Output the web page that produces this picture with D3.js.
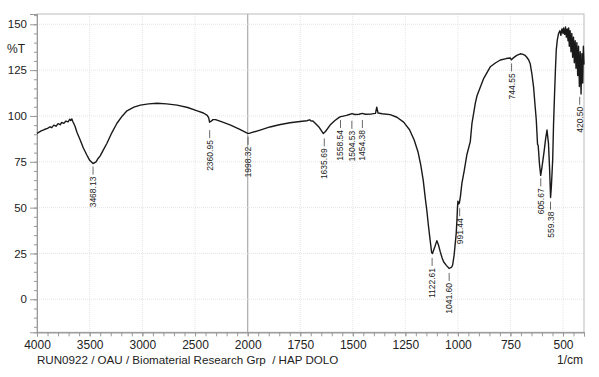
<!DOCTYPE html>
<html lang="en">
<head>
<meta charset="UTF-8">
<title>FTIR HAP DOLO</title>
<script src="https://cdn.jsdelivr.net/npm/d3@7"></script>
<style>
body { margin: 0; background: #fff; }
svg { display: block; font-family: "Liberation Sans", Arial, sans-serif; }
.tick text { fill: #222; }
</style>
</head>
<body>
<svg id="chart" width="599" height="377"></svg>
<script>
// spectrum (wavenumber 1/cm, %T)
var specWn = [4000, 3960, 3930, 3900, 3876, 3860, 3840, 3820, 3800, 3780, 3765, 3745, 3725, 3705, 3690, 3680, 3670, 3660, 3640, 3620, 3590, 3560, 3527, 3500, 3468, 3440, 3420, 3400, 3370, 3336, 3290, 3241, 3190, 3146, 3080, 3019, 2940, 2860, 2770, 2670, 2570, 2479, 2420, 2384, 2370, 2362, 2350, 2330, 2305, 2250, 2162, 2080, 2000, 1990, 1941, 1894, 1850, 1799, 1750, 1719, 1705, 1698, 1690, 1680, 1660, 1640, 1630, 1608, 1585, 1565, 1558, 1550, 1530, 1513, 1504, 1490, 1470, 1455, 1440, 1410, 1392, 1386, 1380, 1360, 1322, 1290, 1258, 1230, 1208, 1190, 1177, 1165, 1155, 1148, 1140, 1132, 1125, 1121, 1110, 1100, 1092, 1084, 1075, 1068, 1055, 1041, 1030, 1025, 1018, 1014, 1008, 1004, 1002, 1000, 996, 993, 988, 981, 970, 957, 941, 933, 917, 909, 877, 846, 820, 798, 770, 751, 745, 738, 720, 703, 690, 680, 672, 663, 656, 648, 640, 633, 627, 621, 618, 612, 606, 600, 589, 582, 576, 572, 569, 564, 559, 555, 549, 545, 540, 536, 532, 527, 521, 515, 510, 505, 500, 497, 492, 488, 484, 480, 476, 473, 470, 466, 462, 458, 454, 450, 446, 442, 438, 434, 430, 426, 422, 418, 414, 410, 406, 403, 400];
var specT = [90.5, 91.8, 92.6, 93.2, 94.1, 93.6, 95.0, 94.4, 95.8, 95.2, 96.5, 96.0, 97.2, 96.8, 98.2, 97.5, 98.4, 97.0, 94.5, 91.0, 86.9, 82.5, 78.7, 75.8, 74.0, 75.0, 76.8, 78.2, 81.5, 85.1, 90.8, 96.0, 100.0, 102.8, 104.8, 105.9, 106.6, 106.9, 106.6, 105.9, 104.6, 102.8, 101.6, 100.3, 99.0, 96.6, 97.0, 98.0, 98.0, 96.9, 95.0, 92.8, 90.5, 90.6, 92.3, 94.0, 95.2, 96.3, 97.0, 97.4, 97.9, 97.2, 97.3, 96.2, 93.8, 90.4, 91.5, 95.0, 97.5, 99.2, 99.6, 99.8, 100.3, 100.9, 101.3, 100.8, 100.9, 101.4, 100.9, 101.1, 101.4, 104.8, 101.6, 101.2, 100.7, 99.3, 96.6, 92.5, 86.9, 80.5, 73.5, 65.0, 55.0, 48.7, 40.0, 32.3, 25.5, 25.0, 28.5, 32.0, 29.5, 26.0, 22.5, 20.5, 18.5, 16.8, 17.5, 18.7, 24.0, 28.7, 36.0, 44.2, 50.0, 53.5, 52.0, 52.5, 56.0, 63.2, 70.0, 79.0, 86.0, 96.0, 107.0, 111.0, 120.5, 126.8, 129.0, 130.5, 131.3, 131.6, 130.6, 131.5, 133.0, 133.9, 133.6, 133.0, 132.0, 130.5, 128.5, 123.0, 115.9, 106.0, 97.8, 84.5, 84.0, 74.0, 67.6, 72.0, 81.4, 88.0, 92.3, 88.0, 85.0, 72.0, 55.5, 62.0, 76.0, 95.0, 112.3, 125.0, 135.9, 141.5, 145.0, 146.5, 144.0, 147.5, 145.0, 148.0, 144.5, 148.5, 143.0, 147.5, 141.0, 148.0, 138.0, 146.5, 135.0, 145.0, 132.0, 143.0, 129.0, 141.0, 126.0, 140.0, 122.0, 138.0, 116.0, 135.0, 112.0, 134.0, 118.0, 138.0, 128.0];

// labelled peaks
var peakWn = [3468.13, 2360.95, 1998.32, 1635.69, 1558.54, 1504.53, 1454.38, 1122.61, 1041.60, 991.44, 744.55, 605.67, 559.38, 420.50];
var peakT = [74.0, 93.9, 90.3, 89.4, 99.4, 99.0, 99.4, 24.2, 16.0, 51.3, 130.3, 67.6, 54.9, 112.1];

var xMajor = [4000, 3500, 3000, 2500, 2000, 1750, 1500, 1250, 1000, 750, 500];
var yMajor = [0, 25, 50, 75, 100, 125, 150];

var svg = d3.select('#chart');
var padL = 37, padR = 584, padT = 14, padB = 332.3;

// split scale: 4000-2000 compressed, 2000-400 expanded
var x = d3.scaleLinear().domain([4000, 2000, 400]).range([padL, 247.7, padR]);
var y = d3.scaleLinear().domain([-18, 155.6]).range([padB, padT]);

var xMinor = d3.range(4000, 2000, -100).concat(d3.range(2000, 399, -50));
var yMinor = d3.range(-15, 156, 5);

// grid
var grid = svg.append('g');
grid.selectAll('line.gx')
    .data(xMajor.filter(function(d) { return d !== 4000; }))
    .enter().append('line')
    .attr('x1', function(d) { return x(d); }).attr('x2', function(d) { return x(d); })
    .attr('y1', padT).attr('y2', padB)
    .attr('stroke', function(d) { return d === 2000 ? '#aaa' : '#ddd'; })
    .attr('stroke-width', function(d) { return d === 2000 ? 1.2 : 0.8; })
    .attr('stroke-dasharray', function(d) { return d === 2000 ? null : '1,1'; });
grid.selectAll('line.gy')
    .data(yMajor)
    .enter().append('line')
    .attr('x1', padL).attr('x2', padR)
    .attr('y1', function(d) { return y(d); }).attr('y2', function(d) { return y(d); })
    .attr('stroke', '#ddd').attr('stroke-width', 0.8)
    .attr('stroke-dasharray', '1,1');

// frame
svg.append('rect')
    .attr('x', padL).attr('y', padT)
    .attr('width', padR - padL).attr('height', padB - padT)
    .attr('fill', 'none').attr('stroke', '#bbb').attr('stroke-width', 1);

// axes
function styleAxis(g) {
    g.select('.domain').attr('stroke', '#999');
    g.selectAll('.tick line').attr('stroke', '#999');
}
svg.append('g').attr('transform', 'translate(' + padL + ',0)')
    .call(d3.axisLeft(y).tickValues(yMinor).tickSize(3).tickFormat(''))
    .call(styleAxis);
svg.append('g').attr('transform', 'translate(' + padL + ',0)')
    .call(d3.axisLeft(y).tickValues(yMajor).tickSize(7).tickPadding(3))
    .call(styleAxis)
    .selectAll('text').attr('font-size', 11.5).attr('font-family', 'Liberation Sans, Arial');
svg.append('g').attr('transform', 'translate(0,' + padB + ')')
    .call(d3.axisBottom(x).tickValues(xMinor).tickSize(4).tickFormat(''))
    .call(styleAxis);
svg.append('g').attr('transform', 'translate(0,' + padB + ')')
    .call(d3.axisBottom(x).tickValues(xMajor).tickSize(4).tickPadding(4).tickFormat(d3.format('d')))
    .call(styleAxis)
    .selectAll('text').attr('font-size', 12).attr('font-family', 'Liberation Sans, Arial');

svg.append('text').attr('x', 25).attr('y', 53)
    .attr('text-anchor', 'end').attr('font-size', 12).attr('fill', '#222')
    .text('%T');
svg.append('text').attr('x', 37).attr('y', 364)
    .attr('font-size', 11.6).attr('fill', '#222')
    .style('white-space', 'pre')
    .text('RUN0922 / OAU / Biomaterial Research Grp  / HAP DOLO');
svg.append('text').attr('x', 583).attr('y', 364)
    .attr('text-anchor', 'end').attr('font-size', 12).attr('fill', '#222')
    .text('1/cm');

// spectrum
var line = d3.line()
    .x(function(d) { return x(d[0]); })
    .y(function(d) { return y(d[1]); });
svg.append('path')
    .datum(d3.zip(specWn, specT))
    .attr('d', line)
    .attr('fill', 'none')
    .attr('stroke', '#1a1a1a')
    .attr('stroke-width', 1.4)
    .attr('stroke-linejoin', 'round');

// peak markers
var peaks = svg.append('g').selectAll('g')
    .data(d3.zip(peakWn, peakT))
    .enter().append('g');
peaks.append('line')
    .attr('x1', function(d) { return x(d[0]); }).attr('x2', function(d) { return x(d[0]); })
    .attr('y1', function(d) { return y(d[1]) + 3; })
    .attr('y2', function(d) { return y(d[1]) + 11; })
    .attr('stroke', '#444').attr('stroke-width', 0.8);
peaks.append('text')
    .attr('transform', function(d) {
        return 'translate(' + (x(d[0]) + 3) + ',' + (y(d[1]) + 13) + ') rotate(-90)';
    })
    .attr('text-anchor', 'end')
    .attr('font-size', 8.5)
    .attr('fill', '#222')
    .text(function(d) { return d[0].toFixed(2); });
</script>
</body>
</html>
